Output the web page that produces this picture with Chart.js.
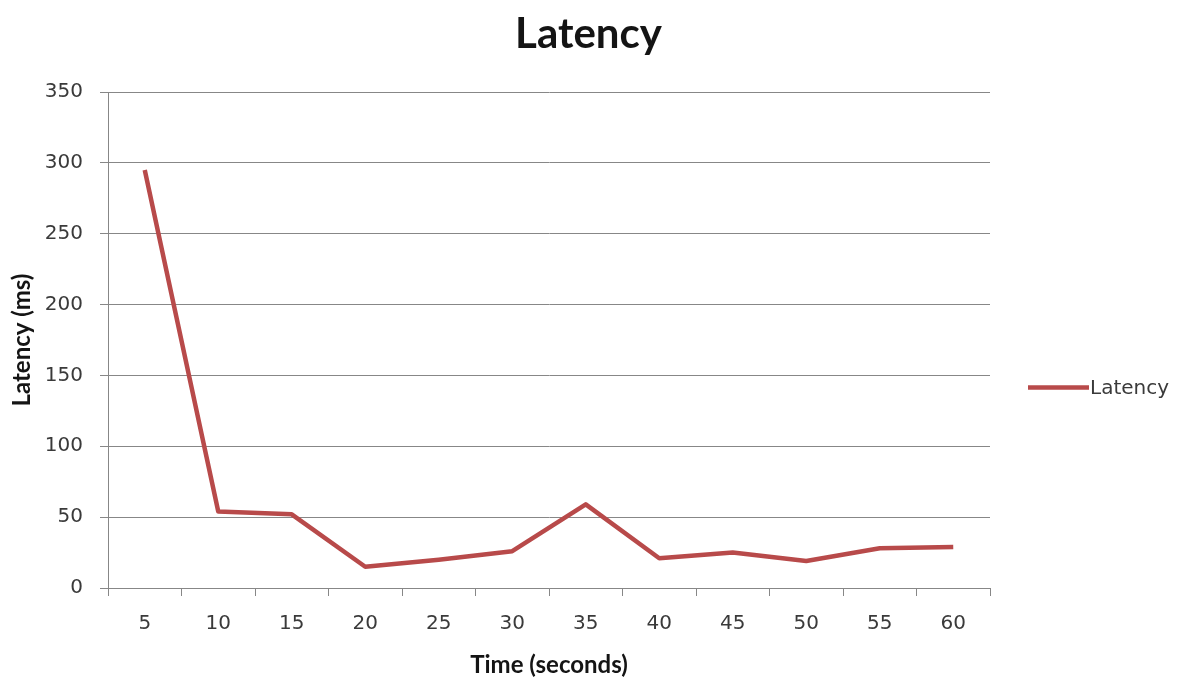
<!DOCTYPE html>
<html>
<head>
<meta charset="utf-8">
<script src="https://cdn.jsdelivr.net/npm/chart.js@4/dist/chart.umd.min.js"></script>
<style>
  html, body { margin: 0; padding: 0; background: #ffffff; }
  #wrap { width: 1177px; height: 679px; }
</style>
</head>
<body>
<div id="wrap"><canvas id="c" width="1177" height="679"></canvas></div>
<script>
// Sampling times (seconds) and measured latency (ms)
const categories = ['5', '10', '15', '20', '25', '30', '35', '40', '45', '50', '55', '60'];
const latency = [295, 54, 52, 15, 20, 26, 59, 21, 25, 19, 28, 29];
const seriesName = 'Latency';
const chartTitle = 'Latency';
const xTitle = 'Time (seconds)';
const yTitle = 'Latency (ms)';
const yTickMin = 0;
const yTickMax = 350;
const yTickStep = 50;

const TITLE_FONT = 'Lato, "Open Sans", "Liberation Sans", sans-serif';
const LABEL_FONT = '"DejaVu Sans", "Liberation Sans", sans-serif';
const LINE_COLOR = '#b84a4a';
const GRID_COLOR = '#878787';
const TEXT_COLOR = '#3a3a3a';
const TITLE_COLOR = '#141414';

// Title centred over the full canvas, legend in the right margin
const decorations = {
  id: 'decorations',
  afterDraw(chart) {
    const ctx = chart.ctx;
    const ds = chart.data.datasets[0];
    ctx.save();
    ctx.fillStyle = TITLE_COLOR;
    ctx.font = 'bold 42px ' + TITLE_FONT;
    ctx.textAlign = 'center';
    ctx.textBaseline = 'middle';
    ctx.fillText(chartTitle, chart.width / 2, 34);

    const y = 387.5;
    ctx.strokeStyle = ds.borderColor;
    ctx.lineWidth = 4.5;
    ctx.beginPath();
    ctx.moveTo(1028, y);
    ctx.lineTo(1089, y);
    ctx.stroke();
    ctx.fillStyle = TEXT_COLOR;
    ctx.font = '20px ' + LABEL_FONT;
    ctx.textAlign = 'left';
    ctx.fillText(ds.label, 1090, y + 1);
    ctx.restore();
  }
};

new Chart(document.getElementById('c'), {
  type: 'line',
  data: {
    labels: categories,
    datasets: [{
      label: seriesName,
      data: latency,
      borderColor: LINE_COLOR,
      backgroundColor: LINE_COLOR,
      borderWidth: 4.5,
      pointRadius: 0,
      pointHoverRadius: 0,
      tension: 0,
      borderJoinStyle: 'round',
      borderCapStyle: 'butt'
    }]
  },
  options: {
    responsive: false,
    animation: false,
    layout: { padding: { left: 0, right: 187, top: 92, bottom: 0 } },
    plugins: {
      legend: { display: false },
      tooltip: { enabled: false },
      title: { display: false }
    },
    scales: {
      x: {
        type: 'category',
        offset: true,
        afterFit(scale) { scale.height = 91; },
        grid: {
          offset: true,
          drawOnChartArea: false,
          drawTicks: true,
          tickLength: 8,
          color: GRID_COLOR,
          lineWidth: 1
        },
        border: { display: true, color: GRID_COLOR, width: 1 },
        ticks: {
          color: TEXT_COLOR,
          font: { family: LABEL_FONT, size: 20, lineHeight: 1.2 },
          padding: 16,
          maxRotation: 0,
          autoSkip: false
        },
        title: {
          display: true,
          text: xTitle,
          color: TITLE_COLOR,
          font: { family: TITLE_FONT, size: 24, weight: 'bold', lineHeight: 1 },
          padding: { top: 0, bottom: 2 }
        }
      },
      y: {
        min: yTickMin,
        max: yTickMax,
        afterFit(scale) { scale.width = 108; },
        grid: {
          color: GRID_COLOR,
          lineWidth: 1,
          drawTicks: true,
          tickLength: 8
        },
        border: { display: true, color: GRID_COLOR, width: 1 },
        ticks: {
          stepSize: yTickStep,
          color: TEXT_COLOR,
          font: { family: LABEL_FONT, size: 20, lineHeight: 1.2 },
          padding: 17
        },
        title: {
          display: true,
          text: yTitle,
          color: TITLE_COLOR,
          font: { family: TITLE_FONT, size: 24, weight: 'bold', lineHeight: 1 },
          padding: { top: 10, bottom: 0 }
        }
      }
    }
  },
  plugins: [decorations]
});
</script>
</body>
</html>
